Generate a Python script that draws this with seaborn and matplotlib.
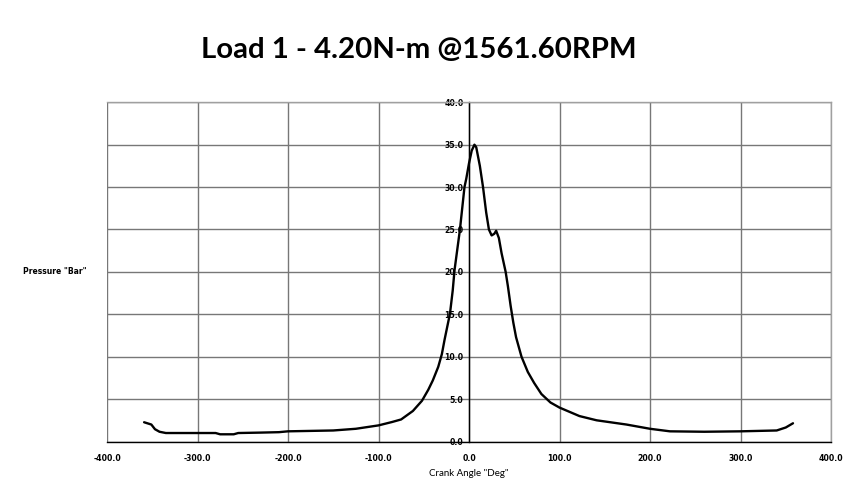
import matplotlib
matplotlib.use("Agg")
import matplotlib.pyplot as plt
import seaborn as sns
import pandas as pd

crank_angle = [-359, -351, -347, -342, -335, -300, -280, -275, -260, -255, -230, -210,
               -200, -150, -125, -100, -85, -75, -62, -52, -45, -40, -34, -30, -27, -21,
               -18, -16, -13, -10, -5, -3, 0, 3, 6, 8, 12, 15.5, 19, 22, 25, 28, 30, 33,
               36, 40.5, 43, 46, 49, 52, 58, 65, 72, 80, 90, 100, 122, 141, 174, 200,
               222, 260, 300, 340, 350, 358]
pressure = [2.27, 2.0, 1.45, 1.15, 1.0, 1.0, 1.0, 0.85, 0.85, 1.0, 1.05, 1.1,
            1.2, 1.3, 1.5, 1.9, 2.3, 2.6, 3.6, 4.8, 6.1, 7.2, 8.8, 10.3, 12.0, 15.1,
            17.8, 20.2, 22.6, 25.0, 30.0, 31.0, 32.8, 34.3, 35.0, 34.7, 32.5, 30.0, 27.0,
            25.0, 24.3, 24.5, 24.85, 24.0, 22.2, 20.0, 18.3, 16.0, 14.0, 12.3, 10.0, 8.2,
            6.9, 5.6, 4.6, 4.0, 3.0, 2.5, 2.0, 1.5, 1.2, 1.15, 1.2, 1.3, 1.65, 2.15]
x_ticks = [-400, -300, -200, -100, 0, 100, 200, 300, 400]
y_ticks = [0, 5, 10, 15, 20, 25, 30, 35, 40]

title = 'Load 1 - 4.20N-m @1561.60RPM'
x_label = 'Crank Angle "Deg"'
y_label = 'Pressure "Bar"'

sns.set_style("white")
W, H = 846, 488
fig = plt.figure(figsize=(W / 100, H / 100), dpi=100)
fig.patch.set_facecolor("white")
ax = fig.add_axes([107 / W, (H - 441.5) / H, (831 - 107) / W, (441.5 - 102.3) / H])

df = pd.DataFrame({"angle": crank_angle, "pressure": pressure})
sns.lineplot(data=df, x="angle", y="pressure", sort=False, color="black",
             linewidth=1.7, ax=ax)

ax.set_xlim(-400, 400)
ax.set_ylim(0, 40)
ax.set_xticks(x_ticks)
ax.set_yticks(y_ticks)
ax.set_xticklabels([f"{v:.1f}" for v in x_ticks])
ax.set_yticklabels([f"{v:.1f}" for v in y_ticks])
ax.grid(True, color="#777777", linewidth=1.0)
ax.set_axisbelow(True)

ax.spines["left"].set_position(("data", 0))
ax.spines["left"].set_color("black")
ax.spines["left"].set_linewidth(1.0)
ax.spines["bottom"].set_color("black")
ax.spines["bottom"].set_linewidth(1.0)
for s in ("top", "right"):
    ax.spines[s].set_color("#a0a0a0")
    ax.spines[s].set_linewidth(1.0)

ax.tick_params(axis="x", direction="inout", length=6, width=1, colors="black",
               labelsize=5.6, pad=6)
ax.tick_params(axis="y", direction="out", length=3, width=1, colors="black",
               labelsize=5.6, pad=1)
for lbl in ax.get_xticklabels() + ax.get_yticklabels():
    lbl.set_fontweight("bold")
    lbl.set_family("DejaVu Sans")

ax.set_xlabel("")
ax.set_ylabel("")
fig.text(469 / W, 1 - 474 / H, x_label, ha="center", va="center",
         fontsize=7, family="Lato", color="black")
fig.text(23 / W, 1 - 272 / H, y_label, ha="left", va="center",
         fontsize=5.5, family="DejaVu Sans", fontweight="bold", color="black")
fig.text(419 / W, 1 - 50 / H, title, ha="center", va="center",
         fontsize=21.2, family="Lato", fontweight="bold", color="black")

fig.savefig("out.png", dpi=100, facecolor="white")
